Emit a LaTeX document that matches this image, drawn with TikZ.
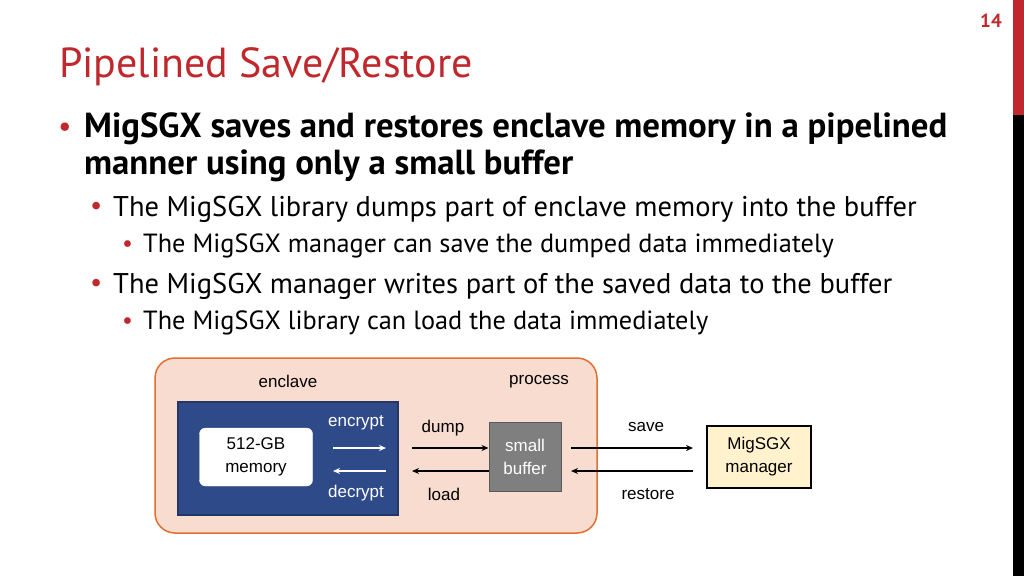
\documentclass[tikz,border=0pt]{standalone}
\usepackage{fontspec}
\setmainfont{PT Sans}
\newfontfamily\arialf{Liberation Sans}
\usetikzlibrary{arrows.meta}
\definecolor{tred}{HTML}{C0282D}
\begin{document}
\begin{tikzpicture}[x=1pt,y=-1pt,
  lbl/.style={font=\arialf\fontsize{17}{19}\selectfont, inner sep=0pt},
  arr/.style={-{Stealth[length=7pt,width=6pt]}, line width=1.3pt},
  every node/.style={inner sep=0pt}]
\useasboundingbox (0,0) rectangle (1024,576);
\fill[tred] (1013,0) rectangle (1024,115);
\fill[black] (1013,115) rectangle (1024,576);
\node[font=\bfseries\fontsize{19}{20}\selectfont, text=tred] (pg) at (991,21) {14};
\node[anchor=west, text=tred, font=\fontsize{42}{46}\selectfont] (title) at (59,67) {Pipelined Save/Restore};
\node[anchor=west, text=tred, font=\fontsize{30}{30}\selectfont] (b1) at (58,130) {•};
\node[anchor=north west, align=left, font=\bfseries\fontsize{34.8}{37}\selectfont] (t1) at (84,112) {MigSGX saves and restores enclave memory in a pipelined\\manner using only a small buffer};
\node[anchor=west, text=tred, font=\fontsize{27}{27}\selectfont] (b2) at (90,208) {•};
\node[anchor=west, font=\fontsize{28.5}{30}\selectfont] (t2) at (113,209) {The MigSGX library dumps part of enclave memory into the buffer};
\node[anchor=west, text=tred, font=\fontsize{24}{24}\selectfont] (b3) at (122,246) {•};
\node[anchor=west, font=\fontsize{26.3}{28}\selectfont] (t3) at (143,246) {The MigSGX manager can save the dumped data immediately};
\node[anchor=west, text=tred, font=\fontsize{27}{27}\selectfont] (b4) at (90,285) {•};
\node[anchor=west, font=\fontsize{28.5}{30}\selectfont] (t4) at (113,286) {The MigSGX manager writes part of the saved data to the buffer};
\node[anchor=west, text=tred, font=\fontsize{24}{24}\selectfont] (b5) at (122,323) {•};
\node[anchor=west, font=\fontsize{26.3}{28}\selectfont] (t5) at (143,323) {The MigSGX library can load the data immediately};
% diagram
\draw[fill={rgb,255:red,248;green,220;blue,208}, draw={rgb,255:red,224;green,112;blue,48}, line width=1.5pt, rounded corners=20pt] (155,358) rectangle (597,533);
\draw[fill={rgb,255:red,47;green,74;blue,136}, draw={rgb,255:red,35;green,55;blue,100}, line width=1.2pt] (178,402) rectangle (398,515);
\node[draw=white, fill=white, rounded corners=6pt, minimum width=113pt, minimum height=58pt, align=center, lbl] (mem) at (256,457) {512-GB\\[4pt]memory};
\node[draw={rgb,255:red,90;green,90;blue,90}, fill={rgb,255:red,127;green,127;blue,127}, line width=1pt, minimum width=72pt, minimum height=69pt, align=center, lbl, text=white] (buf) at (525,457) {small\\[4pt]buffer};
\node[draw=black, fill={rgb,255:red,255;green,242;blue,204}, line width=1.2pt, minimum width=104pt, minimum height=62pt, align=center, lbl] (mgr) at (759,457) {MigSGX\\[4pt]manager};
\node[lbl] (encl) at (288,381) {enclave};
\node[lbl] (proc) at (539,382) {process};
\node[lbl, text=white] (enc) at (356,423) {encrypt};
\node[lbl, text=white] (dec) at (356,493) {decrypt};
\node[lbl] (dump) at (443,428) {dump};
\node[lbl] (load) at (444,494) {load};
\node[lbl] (save) at (646,427) {save};
\node[lbl] (rest) at (648,494) {restore};
\coordinate (e1) at (333,448); \coordinate (e2) at (386,448);
\coordinate (d1) at (386,471); \coordinate (d2) at (333,471);
\draw[arr, white] (e1) -- (e2);
\draw[arr, white] (d1) -- (d2);
\draw[arr] (412,448) -- (buf.west |- 0,448);
\draw[arr] (buf.west |- 0,471) -- (412,471);
\draw[arr] (571,448) -- (693,448);
\draw[arr] (693,471) -- (571,471);
\end{tikzpicture}
\end{document}
